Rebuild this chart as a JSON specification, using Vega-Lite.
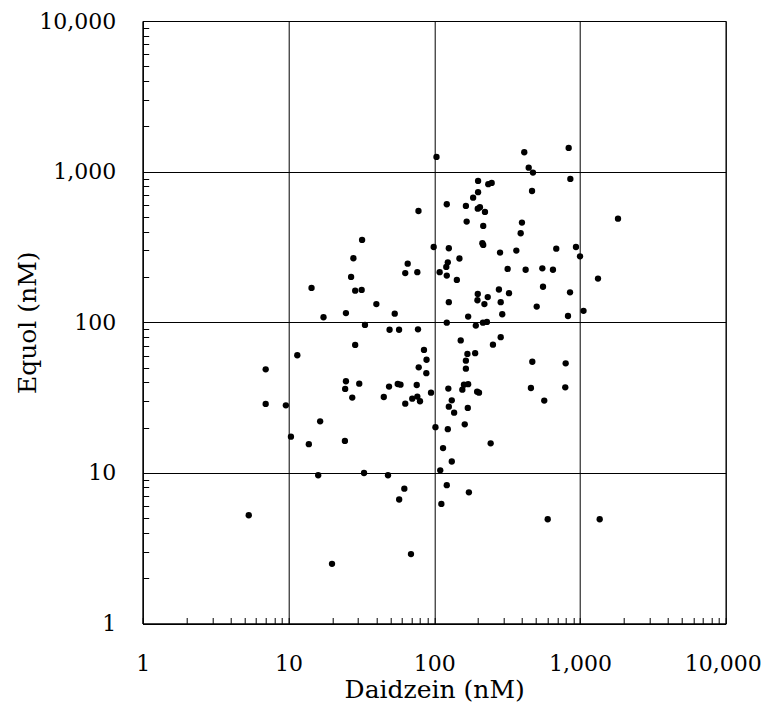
{
  "$schema": "https://vega.github.io/schema/vega-lite/v6.json",
  "autosize": {"type": "none"},
  "width": 583,
  "height": 602.5,
  "padding": {"left": 142.7, "top": 21, "right": 37.3, "bottom": 99.5},
  "background": "white",
  "config": {
    "view": {"stroke": "#000", "strokeWidth": 1},
    "font": "DejaVu Serif"
  },
  "data": {
    "values": [
      {"daidzein": 103.7, "equol": 1252},
      {"daidzein": 415, "equol": 1345},
      {"daidzein": 837, "equol": 1437},
      {"daidzein": 445, "equol": 1063},
      {"daidzein": 476, "equol": 985},
      {"daidzein": 859, "equol": 894},
      {"daidzein": 200, "equol": 868},
      {"daidzein": 235, "equol": 825},
      {"daidzein": 248, "equol": 841},
      {"daidzein": 200, "equol": 730},
      {"daidzein": 469, "equol": 744},
      {"daidzein": 185, "equol": 672},
      {"daidzein": 122, "equol": 607},
      {"daidzein": 165, "equol": 592},
      {"daidzein": 199, "equol": 568},
      {"daidzein": 206, "equol": 580},
      {"daidzein": 223, "equol": 540},
      {"daidzein": 78, "equol": 548},
      {"daidzein": 1824, "equol": 487},
      {"daidzein": 167, "equol": 466},
      {"daidzein": 400, "equol": 459},
      {"daidzein": 217, "equol": 436},
      {"daidzein": 392, "equol": 390},
      {"daidzein": 214, "equol": 335},
      {"daidzein": 217, "equol": 326},
      {"daidzein": 32, "equol": 352},
      {"daidzein": 99.2, "equol": 316},
      {"daidzein": 126, "equol": 310},
      {"daidzein": 27.9, "equol": 266},
      {"daidzein": 65.8, "equol": 245},
      {"daidzein": 124, "equol": 250},
      {"daidzein": 121, "equol": 233},
      {"daidzein": 63.3, "equol": 212},
      {"daidzein": 76.6, "equol": 215},
      {"daidzein": 109, "equol": 215},
      {"daidzein": 122, "equol": 204},
      {"daidzein": 26.9, "equol": 200},
      {"daidzein": 14.4, "equol": 169},
      {"daidzein": 28.7, "equol": 162},
      {"daidzein": 31.8, "equol": 164},
      {"daidzein": 126, "equol": 136},
      {"daidzein": 40.1, "equol": 132},
      {"daidzein": 24.8, "equol": 115},
      {"daidzein": 53.6, "equol": 114},
      {"daidzein": 17.4, "equol": 108},
      {"daidzein": 122, "equol": 99.4},
      {"daidzein": 33.5, "equol": 96},
      {"daidzein": 49.4, "equol": 89.2},
      {"daidzein": 57.4, "equol": 89.2},
      {"daidzein": 77.4, "equol": 89.8},
      {"daidzein": 28.7, "equol": 70.7},
      {"daidzein": 85.1, "equol": 65.5},
      {"daidzein": 283, "equol": 290},
      {"daidzein": 366, "equol": 299},
      {"daidzein": 688, "equol": 308},
      {"daidzein": 939, "equol": 316},
      {"daidzein": 1001, "equol": 274},
      {"daidzein": 149, "equol": 265},
      {"daidzein": 143, "equol": 191},
      {"daidzein": 319, "equol": 226},
      {"daidzein": 424, "equol": 223},
      {"daidzein": 552, "equol": 228},
      {"daidzein": 653, "equol": 223},
      {"daidzein": 1330, "equol": 195},
      {"daidzein": 558, "equol": 172},
      {"daidzein": 278, "equol": 165},
      {"daidzein": 326, "equol": 156},
      {"daidzein": 199, "equol": 154},
      {"daidzein": 198, "equol": 140},
      {"daidzein": 233, "equol": 147},
      {"daidzein": 221, "equol": 132},
      {"daidzein": 286, "equol": 136},
      {"daidzein": 855, "equol": 158},
      {"daidzein": 505, "equol": 127},
      {"daidzein": 293, "equol": 113},
      {"daidzein": 171, "equol": 109},
      {"daidzein": 828, "equol": 110},
      {"daidzein": 1058, "equol": 119},
      {"daidzein": 193, "equol": 95},
      {"daidzein": 216, "equol": 99.4},
      {"daidzein": 230, "equol": 100.5},
      {"daidzein": 152, "equol": 75.7},
      {"daidzein": 286, "equol": 79.6},
      {"daidzein": 253, "equol": 71},
      {"daidzein": 11.5, "equol": 60.4},
      {"daidzein": 88.6, "equol": 56.4},
      {"daidzein": 6.98, "equol": 48.7},
      {"daidzein": 78.3, "equol": 50.2},
      {"daidzein": 88.3, "equol": 45.9},
      {"daidzein": 24.8, "equol": 40.6},
      {"daidzein": 24.5, "equol": 36.1},
      {"daidzein": 30.6, "equol": 39.1},
      {"daidzein": 27.4, "equol": 31.6},
      {"daidzein": 49, "equol": 37.4},
      {"daidzein": 56.2, "equol": 38.9},
      {"daidzein": 58.7, "equol": 38.5},
      {"daidzein": 75.9, "equol": 38.3},
      {"daidzein": 45.1, "equol": 31.9},
      {"daidzein": 70.7, "equol": 31.1},
      {"daidzein": 76.6, "equol": 32.1},
      {"daidzein": 79.9, "equol": 29.9},
      {"daidzein": 63.3, "equol": 28.8},
      {"daidzein": 95.1, "equol": 34.1},
      {"daidzein": 125, "equol": 36.3},
      {"daidzein": 126, "equol": 27.5},
      {"daidzein": 6.98, "equol": 28.7},
      {"daidzein": 9.6, "equol": 28.1},
      {"daidzein": 16.5, "equol": 22.0},
      {"daidzein": 10.4, "equol": 17.4},
      {"daidzein": 13.8, "equol": 15.5},
      {"daidzein": 24.4, "equol": 16.3},
      {"daidzein": 102, "equol": 20.1},
      {"daidzein": 124, "equol": 19.5},
      {"daidzein": 115, "equol": 14.6},
      {"daidzein": 110, "equol": 10.4},
      {"daidzein": 122, "equol": 8.29},
      {"daidzein": 16.0, "equol": 9.64},
      {"daidzein": 33.0, "equol": 9.98},
      {"daidzein": 48.2, "equol": 9.64},
      {"daidzein": 62.4, "equol": 7.86},
      {"daidzein": 57.5, "equol": 6.66},
      {"daidzein": 169, "equol": 61.6},
      {"daidzein": 191, "equol": 62.3},
      {"daidzein": 165, "equol": 55.6},
      {"daidzein": 471, "equol": 54.7},
      {"daidzein": 798, "equol": 53.4},
      {"daidzein": 165, "equol": 49.2},
      {"daidzein": 160, "equol": 38.5},
      {"daidzein": 171, "equol": 38.8},
      {"daidzein": 156, "equol": 35.7},
      {"daidzein": 197, "equol": 34.6},
      {"daidzein": 203, "equol": 34.1},
      {"daidzein": 461, "equol": 36.6},
      {"daidzein": 793, "equol": 37.0},
      {"daidzein": 569, "equol": 30.2},
      {"daidzein": 132, "equol": 30.3},
      {"daidzein": 170, "equol": 27.0},
      {"daidzein": 137, "equol": 25.1},
      {"daidzein": 162, "equol": 21.0},
      {"daidzein": 244, "equol": 15.7},
      {"daidzein": 132, "equol": 11.9},
      {"daidzein": 173, "equol": 7.43},
      {"daidzein": 112, "equol": 6.22},
      {"daidzein": 5.34, "equol": 5.23},
      {"daidzein": 19.9, "equol": 2.49},
      {"daidzein": 69.3, "equol": 2.89},
      {"daidzein": 601, "equol": 4.92},
      {"daidzein": 1366, "equol": 4.92}
    ]
  },
  "mark": {"type": "circle", "size": 40, "color": "#000", "opacity": 1},
  "encoding": {
    "x": {
      "field": "daidzein",
      "type": "quantitative",
      "scale": {"type": "log", "domain": [1, 10000], "nice": false, "zero": false},
      "axis": {
        "title": "Daidzein (nM)",
        "values": [1,2,3,4,5,6,7,8,9,10,20,30,40,50,60,70,80,90,100,200,300,400,500,600,700,800,900,1000,2000,3000,4000,5000,6000,7000,8000,9000,10000],
        "labelExpr": "indexof([1,10,100,1000,10000], datum.value) >= 0 ? format(datum.value, ',') : ''",
        "labelOverlap": false,
        "labelFlush": false,
        "labelBound": false,
        "labelFont": "DejaVu Serif",
        "labelFontSize": 22,
        "labelColor": "#000",
        "labelPadding": 36,
        "labelOffset": {"condition": {"test": "datum.value == 10000", "value": -3}, "value": 0},
        "tickSize": -6,
        "tickColor": "#000",
        "tickWidth": 1,
        "domainColor": "#000",
        "grid": true,
        "gridColor": "#000",
        "gridWidth": 1,
        "gridOpacity": {"condition": {"test": "indexof([1,10,100,1000,10000], datum.value) >= 0", "value": 1}, "value": 0},
        "titleFont": "DejaVu Serif",
        "titleFontSize": 25,
        "titleFontWeight": "normal",
        "titleColor": "#000",
        "titlePadding": 3
      }
    },
    "y": {
      "field": "equol",
      "type": "quantitative",
      "scale": {"type": "log", "domain": [1, 10000], "nice": false, "zero": false},
      "axis": {
        "title": "Equol (nM)",
        "values": [1,2,3,4,5,6,7,8,9,10,20,30,40,50,60,70,80,90,100,200,300,400,500,600,700,800,900,1000,2000,3000,4000,5000,6000,7000,8000,9000,10000],
        "labelExpr": "indexof([1,10,100,1000,10000], datum.value) >= 0 ? format(datum.value, ',') : ''",
        "labelOverlap": false,
        "labelFlush": false,
        "labelFont": "DejaVu Serif",
        "labelFontSize": 22,
        "labelColor": "#000",
        "labelPadding": 33,
        "tickSize": -6,
        "tickColor": "#000",
        "tickWidth": 1,
        "domainColor": "#000",
        "grid": true,
        "gridColor": "#000",
        "gridWidth": 1,
        "gridOpacity": {"condition": {"test": "indexof([1,10,100,1000,10000], datum.value) >= 0", "value": 1}, "value": 0},
        "titleFont": "DejaVu Serif",
        "titleFontSize": 25,
        "titleFontWeight": "normal",
        "titleColor": "#000",
        "titlePadding": -2
      }
    }
  }
}
